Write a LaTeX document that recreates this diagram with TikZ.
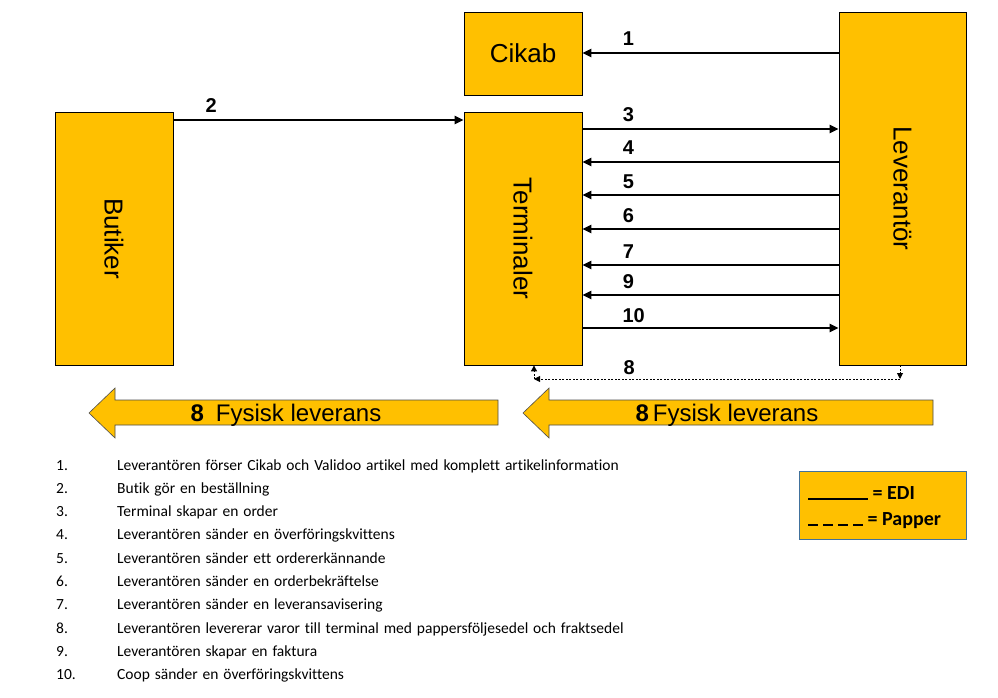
\documentclass[tikz,border=0pt]{standalone}
\usepackage{fontspec}
\setmainfont{Liberation Sans}
\newfontfamily\calibfont{Carlito}
\newfontfamily\listfont[WordSpace=1.4, Ligatures=NoCommon]{Carlito}
\usetikzlibrary{arrows.meta}
\definecolor{gulorange}{HTML}{FFC000}
\definecolor{ramblue}{HTML}{41719C}
\tikzset{
  box/.style={draw=black, line width=0.8pt, fill=gulorange, inner sep=0pt,
    font=\fontsize{26}{30}\selectfont},
  edi/.style={line width=2.4pt, -{Triangle[length=9pt,width=8pt]}},
  papper/.style={line width=0.9pt, dash pattern=on 2pt off 1.5pt,
    -{Triangle[length=6pt,width=6pt]}},
  num/.style={font=\bfseries\fontsize{20}{22}\selectfont, inner sep=0pt},
  fat/.style={draw=black!70, line width=0.6pt, fill=gulorange},
  listtext/.style={font=\listfont\fontsize{15.5}{18}\selectfont, anchor=base west,
    inner sep=0pt}
}
\begin{document}
\begin{tikzpicture}[x=1pt,y=-1pt]
  \useasboundingbox (0,0) rectangle (998,698);
  % huvudrutor
  \node[box, minimum width=118, minimum height=83] (cikab) at (523,53.5) {Cikab};
  \node[box, minimum width=118, minimum height=253] (butik) at (114,238.5) {};
  \node[box, minimum width=118, minimum height=253] (term) at (523,238.5) {};
  \node[box, minimum width=127, minimum height=353] (lev) at (902.5,188.5) {};
  \node[rotate=-90, font=\fontsize{26}{30}\selectfont] at (butik.center) {Butiker};
  \node[rotate=-90, font=\fontsize{26}{30}\selectfont] at (term.center) {Terminaler};
  \node[rotate=-90, font=\fontsize{26}{30}\selectfont] at (lev.center) {Leverantör};
  % EDI-pilar
  \draw[edi] (lev.west |- 0,53) -- (cikab.east |- 0,53) node[num, pos=0.82, above=6pt] {1};
  \draw[edi] (butik.east |- 0,120) -- (term.west |- 0,120) node[num, pos=0.13, above=6pt] {2};
  \draw[edi] (term.east |- 0,129) -- (lev.west |- 0,129) node[num, pos=0.18, above=6pt] {3};
  \draw[edi] (lev.west |- 0,162) -- (term.east |- 0,162) node[num, pos=0.82, above=6pt] {4};
  \draw[edi] (lev.west |- 0,195) -- (term.east |- 0,195) node[num, pos=0.82, above=5pt] {5};
  \draw[edi] (lev.west |- 0,229) -- (term.east |- 0,229) node[num, pos=0.82, above=5pt] {6};
  \draw[edi] (lev.west |- 0,265) -- (term.east |- 0,265) node[num, pos=0.82, above=5pt] {7};
  \draw[edi] (lev.west |- 0,295) -- (term.east |- 0,295) node[num, pos=0.82, above=5pt] {9};
  \draw[edi] (term.east |- 0,328) -- (lev.west |- 0,328) node[num, pos=0.2, above=4pt] {10};
  % papper
  \coordinate (hornH) at (900,379);
  \coordinate (hornV) at (534,379);
  \draw[papper] (lev.south -| hornH) -- (hornH);
  \draw[papper] (hornH) -- (hornV) node[num, pos=0.74, above=4pt] {8};
  \draw[papper] (hornV) -- (term.south -| hornV);
  % fysisk leverans
  \draw[fat] (498,400) -- (115,400) -- (115,388) -- (89,413) -- (115,438)
    -- (115,425) -- (498,425) -- cycle;
  \draw[fat] (933,400) -- (549,400) -- (549,388) -- (523,413) -- (549,438)
    -- (549,425) -- (933,425) -- cycle;
  \node[font=\fontsize{24}{26}\selectfont, anchor=base] (lev1) at (286,421)
    {\textbf{8}\hspace{0.5em}Fysisk leverans};
  \node[font=\fontsize{24}{26}\selectfont, anchor=base] (lev2) at (727,421)
    {\textbf{8}\,Fysisk leverans};
  % teckenforklaring
  \node[draw=ramblue, line width=0.8pt, fill=gulorange, minimum width=167,
    minimum height=68, inner sep=0pt] (legend) at (882.5,505) {};
  \node[font=\calibfont\bfseries\fontsize{20}{22}\selectfont, anchor=base west, inner sep=0pt]
    at (808,499) {\rule[-1pt]{60pt}{1.6pt} = EDI};
  \node[font=\calibfont\bfseries\fontsize{20}{22}\selectfont, anchor=base west, inner sep=0pt]
    at (808,525) {\rule[-1pt]{10pt}{1.6pt}\hspace{5pt}\rule[-1pt]{10pt}{1.6pt}\hspace{5pt}\rule[-1pt]{10pt}{1.6pt}\hspace{5pt}\rule[-1pt]{10pt}{1.6pt} = Papper};
  % lista
  \foreach \n/\t [count=\i from 0] in {
    1./Leverantören förser Cikab och Validoo artikel med komplett artikelinformation,
    2./Butik gör en beställning,
    3./Terminal skapar en order,
    4./Leverantören sänder en överföringskvittens,
    5./Leverantören sänder ett ordererkännande,
    6./Leverantören sänder en orderbekräftelse,
    7./Leverantören sänder en leveransavisering,
    8./Leverantören levererar varor till terminal med pappersföljesedel och fraktsedel,
    9./Leverantören skapar en faktura,
    10./Coop sänder en överföringskvittens}{
    \node[listtext] (nr\i) at (56,470+23.3*\i) {\n};
    \node[listtext] (txt\i) at (117,470+23.3*\i) {\t};
  }
\end{tikzpicture}
\end{document}
